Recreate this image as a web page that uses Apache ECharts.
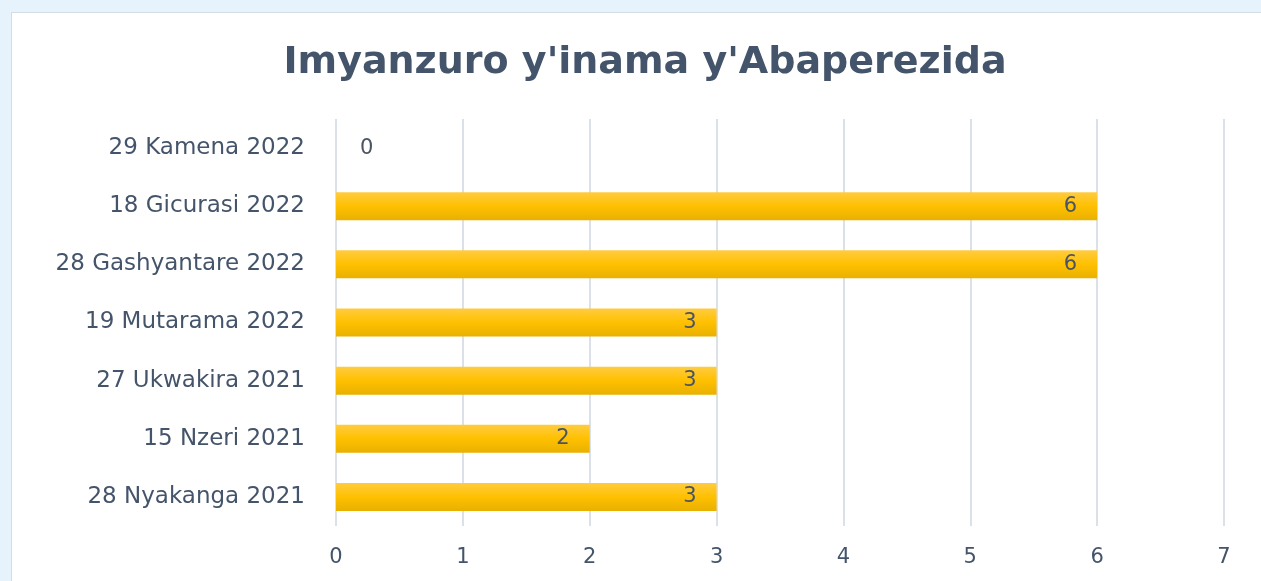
<!DOCTYPE html>
<html>
<head>
<meta charset="utf-8">
<script src="https://cdn.jsdelivr.net/npm/echarts@6/dist/echarts.min.js"></script>
<style>
  html, body { margin: 0; padding: 0; width: 100%; height: 100%; overflow: hidden; background: #e6f3fc; }
  #panel { position: absolute; left: 11px; top: 12px; width: 1300px; height: 620px; background: #fff; border: 1px solid #d3dde6; }
  #chart-container { position: absolute; left: 0; top: 0; width: 1261px; height: 581px; }
</style>
</head>
<body>
<div id="panel"></div>
<div id="chart-container"></div>
<script>
var dom = document.getElementById('chart-container');
var myChart = echarts.init(dom, null, { renderer: 'canvas' });

// bottom to top, as in the picture
var dates = [
  '28 Nyakanga 2021',
  '15 Nzeri 2021',
  '27 Ukwakira 2021',
  '19 Mutarama 2022',
  '28 Gashyantare 2022',
  '18 Gicurasi 2022',
  '29 Kamena 2022'
];
var counts = [3, 2, 3, 3, 6, 6, 0];

var textColor = '#44546a';
var font = 'DejaVu Sans';

var barData = counts.map(function (v) {
  if (v === 0) {
    return { value: v, label: { position: 'right', distance: 24 } };
  }
  return v;
});

var option = {
  title: {
    text: "Imyanzuro y'inama y'Abaperezida",
    left: 640,
    top: 39,
    textAlign: 'center',
    textStyle: {
      fontFamily: font,
      fontWeight: 'bold',
      fontSize: 38,
      color: textColor
    }
  },
  grid: {
    left: 336,
    right: 37,
    top: 119,
    bottom: 55
  },
  xAxis: {
    type: 'value',
    min: 0,
    max: 7,
    interval: 1,
    axisLine: { show: false },
    axisTick: { show: false },
    axisLabel: {
      margin: 21,
      fontFamily: font,
      fontSize: 21,
      color: textColor
    },
    splitLine: { lineStyle: { color: '#dae1e9', width: 2 } }
  },
  yAxis: {
    type: 'category',
    data: dates,
    axisLine: { show: false },
    axisTick: { show: false },
    axisLabel: {
      margin: 31,
      fontFamily: font,
      fontSize: 23,
      color: textColor
    }
  },
  series: [
    {
      type: 'bar',
      data: barData,
      barWidth: 28,
      itemStyle: {
        color: new echarts.graphic.LinearGradient(0, 0, 0, 1, [
          { offset: 0, color: '#ffcc40' },
          { offset: 0.5, color: '#ffc000' },
          { offset: 1, color: '#e8b000' }
        ])
      },
      label: {
        show: true,
        position: 'insideRight',
        distance: 20,
        fontFamily: font,
        fontSize: 21,
        color: '#4a5463'
      }
    }
  ]
};

myChart.setOption(option);
window.addEventListener('resize', myChart.resize);
</script>
</body>
</html>
